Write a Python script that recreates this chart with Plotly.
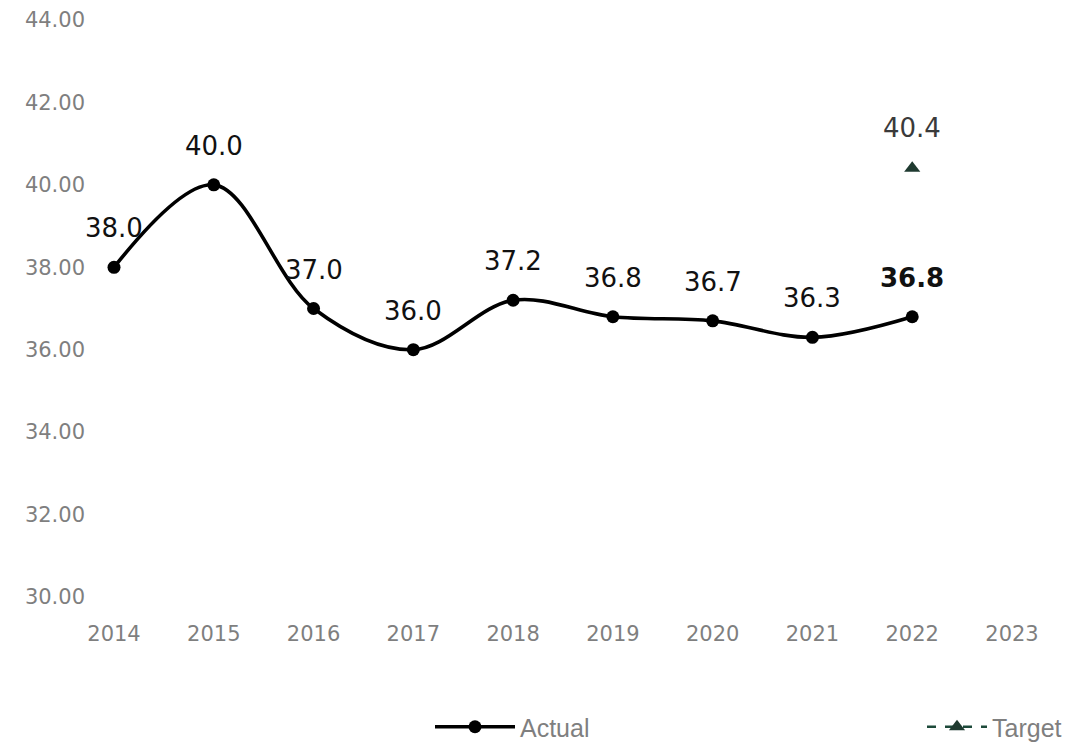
import plotly.graph_objects as go

# Yearly values
years = [2014, 2015, 2016, 2017, 2018, 2019, 2020, 2021, 2022]
actual = [38.0, 40.0, 37.0, 36.0, 37.2, 36.8, 36.7, 36.3, 36.8]
target_years = [2022]
target = [40.4]
axis_years = [2014, 2015, 2016, 2017, 2018, 2019, 2020, 2021, 2022, 2023]
y_ticks = [30, 32, 34, 36, 38, 40, 42, 44]

LABEL_FONT = "DejaVu Sans"
TICK_COLOR = "#7f7f7f"
LEGEND_FONT = dict(family="Liberation Sans Narrow, Liberation Sans", size=25, color=TICK_COLOR)

fig = go.Figure()

fig.add_trace(go.Scatter(
    x=years, y=actual, name="Actual",
    mode="lines+markers",
    line=dict(color="#000000", width=3.6, shape="spline", smoothing=1.0),
    marker=dict(color="#000000", size=13, symbol="circle"),
    cliponaxis=False,
    legend="legend",
))

fig.add_trace(go.Scatter(
    x=target_years, y=target, name="Target",
    mode="lines+markers",
    line=dict(color="#1d4a3a", width=2.5, dash="dash"),
    marker=dict(color="#1f3a30", size=14, symbol="triangle-up"),
    cliponaxis=False,
    legend="legend2",
))

# Value labels above each point; the latest actual value is in bold
for i, (x, v) in enumerate(zip(years, actual)):
    txt = f"{v:.1f}"
    if i == len(years) - 1:
        txt = f"<b>{txt}</b>"
    fig.add_annotation(
        x=x, y=v, text=txt, showarrow=False, yshift=39,
        font=dict(family=LABEL_FONT, size=26, color="#111111"),
    )
for x, v in zip(target_years, target):
    fig.add_annotation(
        x=x, y=v, text=f"{v:.1f}", showarrow=False, yshift=40,
        font=dict(family=LABEL_FONT, size=26, color="#3a3a3a"),
    )

legend_common = dict(
    orientation="h",
    xref="container", yref="container",
    xanchor="left", yanchor="middle",
    font=LEGEND_FONT,
    bgcolor="rgba(0,0,0,0)",
)

fig.update_layout(
    width=1080, height=744,
    paper_bgcolor="white", plot_bgcolor="white",
    margin=dict(l=114, r=68, t=20, b=147, autoexpand=False),
    showlegend=True,
    legend=dict(x=430 / 1080, y=1 - 727 / 744, itemwidth=80, **legend_common),
    legend2=dict(x=922 / 1080, y=1 - 727 / 744, itemwidth=60, **legend_common),
    xaxis=dict(
        range=[2014, 2023],
        tickvals=axis_years,
        ticktext=[str(y) for y in axis_years],
        showgrid=False, zeroline=False, showline=False,
        ticks="", ticklabelstandoff=22,
        tickfont=dict(family=LABEL_FONT, size=21, color=TICK_COLOR),
    ),
    yaxis=dict(
        range=[30, 44],
        tickvals=y_ticks,
        tickformat=".2f",
        showgrid=False, zeroline=False, showline=False,
        ticks="", ticklabelstandoff=28,
        tickfont=dict(family=LABEL_FONT, size=21, color=TICK_COLOR),
    ),
)

fig.write_html("out.html")
